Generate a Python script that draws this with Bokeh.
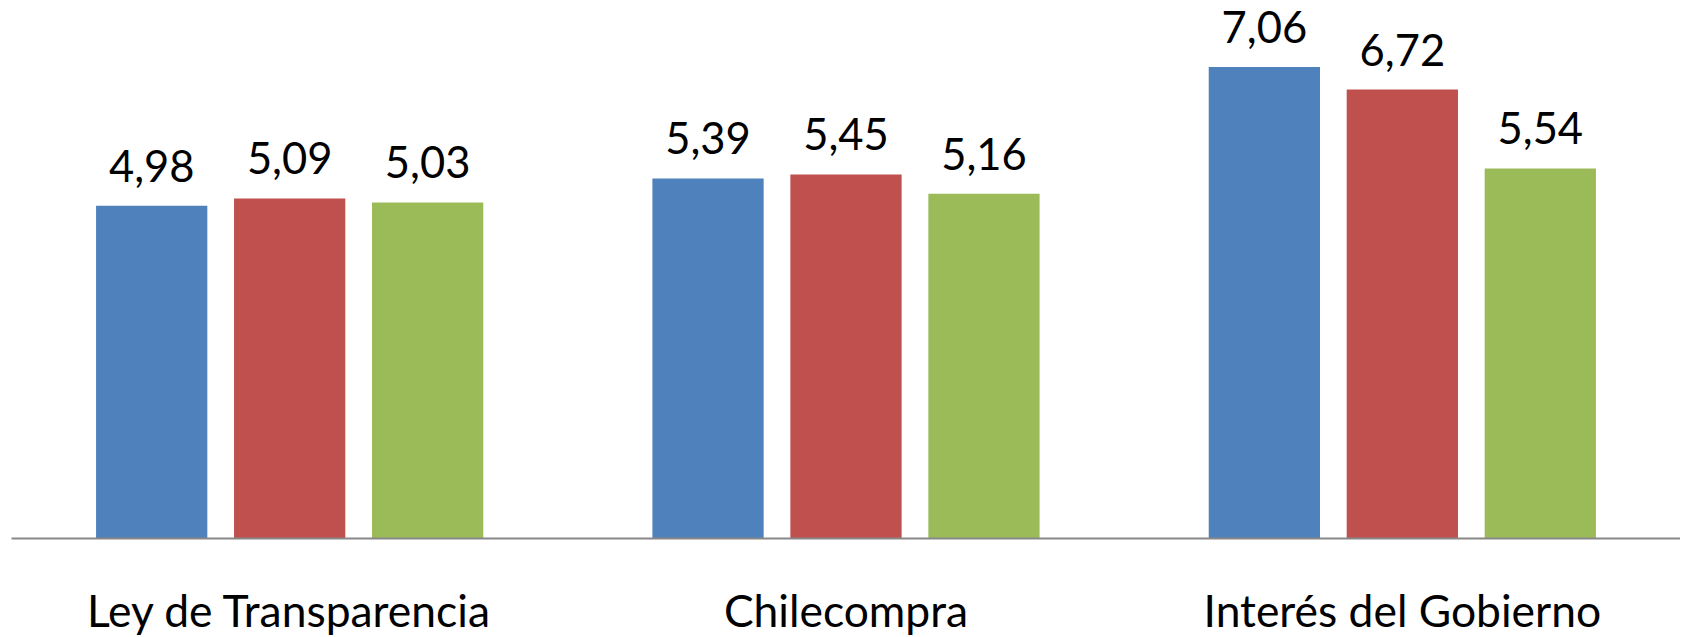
from bokeh.plotting import figure
from bokeh.models import ColumnDataSource, FactorRange, Range1d
from bokeh.transform import dodge
from bokeh.core.properties import value
from bokeh.embed import file_html
from bokeh.resources import INLINE

categories = ["Ley de Transparencia", "Chilecompra", "Interés del Gobierno"]
series1 = [4.98, 5.39, 7.06]
series2 = [5.09, 5.45, 6.72]
series3 = [5.03, 5.16, 5.54]

colors = ["#4F81BD", "#C0504D", "#9BBB59"]
offsets = [-0.248, 0.0, 0.248]

def fmt(v):
    return f"{v:.2f}".replace(".", ",")

src = ColumnDataSource(dict(
    cat=categories,
    s1=series1, s2=series2, s3=series3,
    l1=[fmt(v) for v in series1],
    l2=[fmt(v) for v in series2],
    l3=[fmt(v) for v in series3],
))

p = figure(
    x_range=FactorRange(*categories),
    y_range=Range1d(0, 7.934),
    frame_width=1669, frame_height=530,
    output_backend="svg", toolbar_location=None,
    min_border_left=11, min_border_right=0, min_border_top=8, min_border_bottom=0,
)

FONT = "Lato"
for col, lab, c, off in zip(["s1", "s2", "s3"], ["l1", "l2", "l3"], colors, offsets):
    p.vbar(x=dodge("cat", off, range=p.x_range), top=col, width=0.2, bottom=0,
           source=src, fill_color=c, line_color=None)
    p.text(x=dodge("cat", off, range=p.x_range), y=col, text=lab, source=src,
           text_align="center", text_baseline="alphabetic", y_offset=-40,
           text_font=value(FONT), text_font_size="43.5px", text_color="black")

p.xgrid.grid_line_color = None
p.ygrid.grid_line_color = None
p.outline_line_color = None
p.yaxis.visible = False
ax = p.xaxis[0]
ax.axis_line_color = "#888888"
ax.axis_line_width = 2
ax.major_tick_line_color = None
ax.minor_tick_line_color = None
ax.major_label_text_font = FONT
ax.major_label_text_font_size = "44.4px"
ax.major_label_text_color = "black"
ax.major_label_standoff = 38
p.background_fill_color = "white"
p.border_fill_color = "white"

open("out.html", "w").write(file_html(p, INLINE))
